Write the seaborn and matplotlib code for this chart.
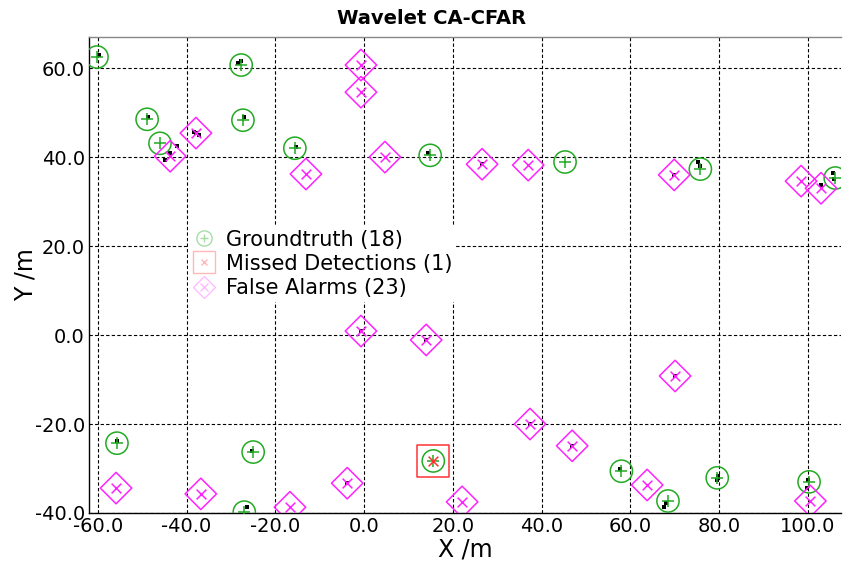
import matplotlib
matplotlib.use("Agg")
import matplotlib.pyplot as plt
import seaborn as sns
from matplotlib.lines import Line2D
from matplotlib.ticker import FormatStrFormatter, MultipleLocator

# Groundtruth (circulo verde con +)
gt_x = [-60.2, -27.7, -48.9, -27.3, -46.0, -15.6, 14.9, 45.3, 75.8, 106.2,
        -55.7, -25.0, -27.0, 15.6, 58.0, 68.5, 79.6, 100.3]
gt_y = [62.5, 60.7, 48.5, 48.3, 43.1, 42.0, 40.4, 38.9, 37.3, 35.3,
        -24.3, -26.3, -39.8, -28.3, -30.6, -37.3, -32.1, -33.0]

# Falsas alarmas (rombo magenta con x)
fa_x = [-0.7, -0.7, -37.9, -43.7, -13.1, 4.7, 26.6, 37.0, 69.9, 98.5, 103.0,
        -0.7, 14.0, 70.1, 37.4, 46.9, -3.8, -55.9, -36.8, -16.7, 22.1, 63.8, 100.6]
fa_y = [60.7, 54.6, 45.4, 40.2, 36.2, 40.0, 38.4, 38.2, 36.0, 34.6, 33.0,
        0.9, -1.1, -9.2, -20.0, -24.9, -33.3, -34.4, -35.7, -38.7, -37.5, -33.7, -37.3]

# Deteccion perdida (cuadrado rojo)
md_x = [15.6]
md_y = [-28.3]

# Detecciones (puntos negros)
det_x = [-59.8, -28.4, -27.7, -48.7, -27.0, -44.9, -43.7, -42.1, -37.9, -38.3, -37.2,
         -15.3, 14.4, 26.6, 75.3, 75.8, 105.7, 106.0, 103.0, 69.9, -0.7, 14.0, 70.1,
         37.4, 46.9, -3.8, -55.7, -25.3, -26.4, 57.7, 68.1, 67.6, 79.8, 79.6, 100.1, 99.9]
det_y = [63.0, 61.1, 61.6, 49.0, 49.0, 39.3, 40.9, 42.4, 45.4, 45.6, 44.9,
         42.2, 40.9, 38.4, 38.9, 38.0, 36.4, 35.0, 33.7, 36.0, 0.9, -1.1, -9.2,
         -20.0, -24.9, -33.3, -23.8, -26.1, -38.7, -30.1, -37.8, -38.7, -31.7, -32.6, -32.6, -34.4]

n_gt, n_md, n_fa = 18, 1, 23

sns.set_style("white")
plt.rcParams['font.family'] = ['DejaVu Sans']
plt.rcParams['text.color'] = 'black'
plt.rcParams['axes.labelcolor'] = 'black'
plt.rcParams['xtick.color'] = 'black'
plt.rcParams['ytick.color'] = 'black'

fig = plt.figure(figsize=(8.43, 5.71), dpi=100)
ax = fig.add_axes([89 / 843, 1 - 513 / 571, 752 / 843, 476 / 571])

green = "#22aa22"
magenta = "#ff22ff"
red = "#ff3333"

sns.scatterplot(x=det_x, y=det_y, ax=ax, marker="s", s=6, color="black", linewidth=0, zorder=3)
sns.scatterplot(x=gt_x, y=gt_y, ax=ax, marker="o", s=16 ** 2, color="none",
                edgecolor=green, linewidth=1.1, zorder=4)
sns.scatterplot(x=gt_x, y=gt_y, ax=ax, marker="+", s=8.5 ** 2, color=green, linewidth=1.1, zorder=4)
sns.scatterplot(x=fa_x, y=fa_y, ax=ax, marker="D", s=16 ** 2, color="none",
                edgecolor=magenta, linewidth=1.1, zorder=4)
sns.scatterplot(x=fa_x, y=fa_y, ax=ax, marker="x", s=7 ** 2, color=magenta, linewidth=1.1, zorder=4)
sns.scatterplot(x=md_x, y=md_y, ax=ax, marker="s", s=23 ** 2, color="none",
                edgecolor=red, linewidth=1.1, zorder=4)
sns.scatterplot(x=md_x, y=md_y, ax=ax, marker="x", s=7 ** 2, color=red, linewidth=1.1, zorder=5)

ax.set_xlim(-62, 107.5)
ax.set_ylim(-40, 67)
ax.xaxis.set_major_locator(MultipleLocator(20))
ax.yaxis.set_major_locator(MultipleLocator(20))
ax.xaxis.set_major_formatter(FormatStrFormatter("%.1f"))
ax.yaxis.set_major_formatter(FormatStrFormatter("%.1f"))
ax.grid(True, color="black", linestyle="--", linewidth=0.8, dashes=(3, 2))
ax.tick_params(length=0, labelsize=14, pad=3)
for sp in ax.spines.values():
    sp.set_color("black")
    sp.set_linewidth(1)
ax.spines["top"].set_color("#888888")
ax.spines["right"].set_visible(False)

ax.set_xlabel("X /m", fontsize=17, labelpad=1)
ax.set_ylabel("Y /m", fontsize=17, labelpad=-2)
ax.set_title("Wavelet CA-CFAR", fontsize=14, fontweight="bold", pad=9, color="black", x=0.455)

# Leyenda con simbolos superpuestos
h_gt = (Line2D([], [], marker="o", ms=11, mfc="none", mec=green, ls="none", alpha=0.4),
        Line2D([], [], marker="+", ms=6, mec=green, ls="none", alpha=0.4))
h_md = (Line2D([], [], marker="s", ms=16, mfc="none", mec=red, ls="none", alpha=0.35),
        Line2D([], [], marker="x", ms=5, mec=red, ls="none", alpha=0.35))
h_fa = (Line2D([], [], marker="D", ms=11, mfc="none", mec=magenta, ls="none", alpha=0.3),
        Line2D([], [], marker="x", ms=6, mec=magenta, ls="none", alpha=0.3))
leg = ax.legend([h_gt, h_md, h_fa],
                [f"Groundtruth ({n_gt})", f"Missed Detections ({n_md})", f"False Alarms ({n_fa})"],
                loc="upper left", bbox_to_anchor=(0.118, 0.626), fontsize=15,
                frameon=True, framealpha=1, edgecolor="none", fancybox=False,
                handlelength=1.1, handletextpad=0.5, labelspacing=0.2, borderpad=0.2)
leg.set_zorder(10)

fig.savefig("out.png", dpi=100)
